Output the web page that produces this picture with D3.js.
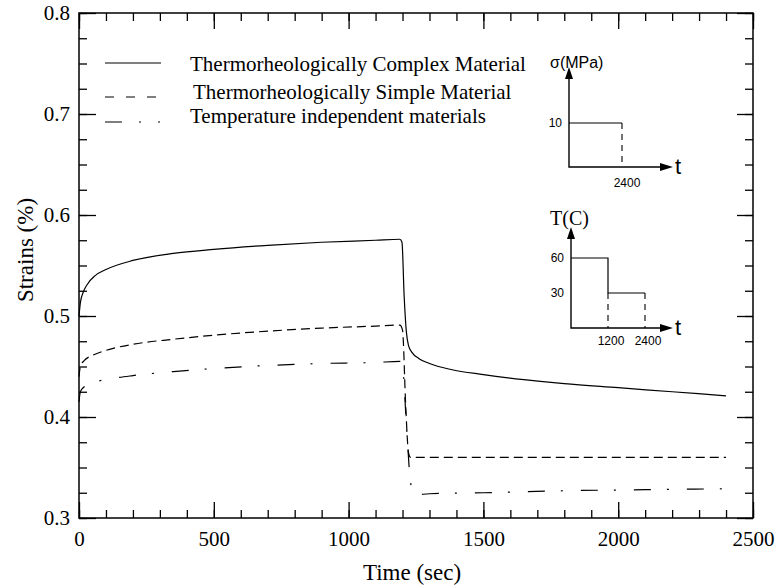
<!DOCTYPE html>
<html>
<head>
<meta charset="utf-8">
<script src="https://cdn.jsdelivr.net/npm/d3@7"></script>
<style>
  body { margin: 0; background: #fff; }
  svg { display: block; }
  .axis text { font-family: "Liberation Serif", "Times New Roman", serif; font-size: 21px; }
</style>
</head>
<body>
<svg id="chart" width="777" height="586"></svg>
<script>
// strain curves: time (sec) and strain (%)
const complexTime = [0, 5, 15, 30, 60, 100, 200, 350, 500, 700, 900, 1100, 1190, 1198, 1206, 1214, 1222, 1235, 1260, 1300, 1380, 1500, 1650, 1800, 2000, 2200, 2400];
const complexStrain = [0.500, 0.513, 0.523, 0.531, 0.540, 0.546, 0.555, 0.562, 0.566, 0.570, 0.573, 0.575, 0.576, 0.573, 0.52, 0.485, 0.471, 0.464, 0.458, 0.453, 0.447, 0.442, 0.437, 0.433, 0.429, 0.425, 0.421];

const simpleTime = [0, 5, 20, 50, 100, 200, 350, 500, 700, 900, 1100, 1190, 1200, 1212, 1222, 1230, 1600, 2000, 2400];
const simpleStrain = [0.440, 0.450, 0.456, 0.461, 0.466, 0.472, 0.477, 0.481, 0.485, 0.488, 0.490, 0.491, 0.486, 0.41, 0.365, 0.360, 0.360, 0.360, 0.360];

const indepTime = [0, 5, 20, 50, 100, 200, 350, 500, 700, 900, 1100, 1190, 1200, 1215, 1230, 1245, 1300, 1500, 1800, 2100, 2400];
const indepStrain = [0.415, 0.425, 0.430, 0.434, 0.437, 0.441, 0.445, 0.448, 0.451, 0.453, 0.454, 0.455, 0.450, 0.39, 0.335, 0.323, 0.324, 0.325, 0.327, 0.328, 0.329];

const seriesNames = ['Thermorheologically Complex Material', 'Thermorheologically Simple Material', 'Temperature independent materials'];

const xTicks = [0, 500, 1000, 1500, 2000, 2500];
const xMinorTicks = d3.range(0, 2501, 100);
const yTicks = [0.3, 0.4, 0.5, 0.6, 0.7, 0.8];
const yMinorTicks = d3.range(0.3, 0.8001, 0.025);

// loading history sketched in the inset
const stressTime = [0, 2400];
const stressLevel = [10, 10];
const tempTime = [0, 1200, 1200, 2400];
const tempLevel = [60, 60, 30, 30];

const svg = d3.select('#chart');
const margin = { left: 79, right: 24, top: 13, bottom: 68 };
const width = 777 - margin.left - margin.right;
const height = 586 - margin.top - margin.bottom;

const x = d3.scaleLinear().domain([0, 2500]).range([0, width]);
const y = d3.scaleLinear().domain([0.3, 0.8]).range([height, 0]);

const g = svg.append('g').attr('transform', `translate(${margin.left},${margin.top})`);

const SERIF = '"Liberation Serif", "Times New Roman", serif';
const SANS = '"Liberation Sans", Arial, sans-serif';

function styleAxis(sel, showLabels) {
  sel.attr('class', 'axis').attr('font-family', null).attr('font-size', null);
  sel.select('.domain').remove();
  sel.selectAll('.tick line').attr('stroke', '#000').attr('stroke-width', 1.3);
  sel.selectAll('.tick text').attr('fill', '#000');
  if (!showLabels) sel.selectAll('.tick text').remove();
}

// bottom
g.append('g').attr('transform', `translate(0,${height})`)
  .call(d3.axisBottom(x).tickValues(xMinorTicks).tickSize(-8).tickFormat(''))
  .call((s) => styleAxis(s, false));
g.append('g').attr('transform', `translate(0,${height})`)
  .call(d3.axisBottom(x).tickValues(xTicks).tickSize(-16).tickPadding(13).tickFormat(d3.format('d')))
  .call((s) => styleAxis(s, true));
// top
g.append('g')
  .call(d3.axisTop(x).tickValues(xMinorTicks).tickSize(-8).tickFormat(''))
  .call((s) => styleAxis(s, false));
g.append('g')
  .call(d3.axisTop(x).tickValues(xTicks).tickSize(-16).tickFormat(''))
  .call((s) => styleAxis(s, false));
// left
g.append('g')
  .call(d3.axisLeft(y).tickValues(yMinorTicks).tickSize(-8).tickFormat(''))
  .call((s) => styleAxis(s, false));
g.append('g')
  .call(d3.axisLeft(y).tickValues(yTicks).tickSize(-17).tickPadding(9).tickFormat(d3.format('.1f')))
  .call((s) => styleAxis(s, true));
// right
g.append('g').attr('transform', `translate(${width},0)`)
  .call(d3.axisRight(y).tickValues(yMinorTicks).tickSize(-8).tickFormat(''))
  .call((s) => styleAxis(s, false));
g.append('g').attr('transform', `translate(${width},0)`)
  .call(d3.axisRight(y).tickValues(yTicks).tickSize(-16).tickFormat(''))
  .call((s) => styleAxis(s, false));

g.append('rect')
  .attr('width', width)
  .attr('height', height)
  .attr('fill', 'none')
  .attr('stroke', '#000')
  .attr('stroke-width', 1.5);

// curves
const line = d3.line()
  .x((d) => x(d[0]))
  .y((d) => y(d[1]))
  .curve(d3.curveMonotoneX);

const series = [
  { time: complexTime, strain: complexStrain, dash: null, legendDash: null },
  { time: simpleTime, strain: simpleStrain, dash: '9,5', legendDash: '9,12' },
  { time: indepTime, strain: indepStrain, dash: '17,16,2,18', legendDash: '17,17,2,17,2,30' }
];

g.selectAll('.curve')
  .data(series)
  .enter()
  .append('path')
  .attr('class', 'curve')
  .attr('d', (s) => line(s.time.map((t, i) => [t, s.strain[i]])))
  .attr('fill', 'none')
  .attr('stroke', '#000')
  .attr('stroke-width', 1.2)
  .attr('stroke-dasharray', (s) => s.dash);

// legend
const legendRows = [
  { y: 50, textX: 111, textY: 58 },
  { y: 84, textX: 114, textY: 86 },
  { y: 109, textX: 111, textY: 110 }
];
const legend = g.append('g');
legend.selectAll('line')
  .data(series)
  .enter()
  .append('line')
  .attr('x1', 26)
  .attr('x2', 82)
  .attr('y1', (d, i) => legendRows[i].y)
  .attr('y2', (d, i) => legendRows[i].y)
  .attr('stroke', '#000')
  .attr('stroke-width', 1.2)
  .attr('stroke-dasharray', (d) => d.legendDash);
legend.selectAll('text')
  .data(seriesNames)
  .enter()
  .append('text')
  .attr('x', (d, i) => legendRows[i].textX)
  .attr('y', (d, i) => legendRows[i].textY)
  .style('font-family', SERIF)
  .style('font-size', '21px')
  .text((d) => d);

// axis titles
svg.append('text')
  .attr('x', 412)
  .attr('y', 580)
  .attr('text-anchor', 'middle')
  .style('font-family', SERIF)
  .style('font-size', '23px')
  .text('Time (sec)');

svg.append('text')
  .attr('transform', 'translate(33,250) rotate(-90)')
  .attr('text-anchor', 'middle')
  .style('font-family', SERIF)
  .style('font-size', '23px')
  .text('Strains (%)');

// inset sketches of the load history
function arrowAxes(parent, ox, oy, topY, rightX) {
  parent.append('path')
    .attr('d', `M${ox},${topY + 10}V${oy}H${rightX - 12}`)
    .attr('fill', 'none')
    .attr('stroke', '#000')
    .attr('stroke-width', 1.4);
  parent.append('path')
    .attr('d', `M${ox},${topY}l-4,12h8z`)
    .attr('fill', '#000');
  parent.append('path')
    .attr('d', `M${rightX},${oy}l-13,-4v8z`)
    .attr('fill', '#000');
  parent.append('text')
    .attr('x', rightX + 2)
    .attr('y', oy + 7)
    .style('font-family', SANS)
    .style('font-size', '22px')
    .text('t');
}

const inset = svg.append('g');
const smallText = (sel) => sel.style('font-family', SANS).style('font-size', '12px').attr('fill', '#000');

// stress
const sx = d3.scaleLinear().domain([0, 2400]).range([569, 622]);
const sy = d3.scaleLinear().domain([0, 10]).range([167, 123]);
arrowAxes(inset, sx(0), sy(0), 67, 673);
inset.append('path')
  .attr('d', d3.line().x((d) => sx(d)).y((d, i) => sy(stressLevel[i]))(stressTime))
  .attr('fill', 'none').attr('stroke', '#000').attr('stroke-width', 1.2);
inset.append('line')
  .attr('x1', sx(2400)).attr('x2', sx(2400))
  .attr('y1', sy(10)).attr('y2', sy(0))
  .attr('stroke', '#000').attr('stroke-width', 1.1).attr('stroke-dasharray', '6,5');
inset.append('text').attr('x', 562).attr('y', sy(10) + 4).attr('text-anchor', 'end').call(smallText).text('10');
inset.append('text').attr('x', sx(2400) + 5).attr('y', 187).attr('text-anchor', 'middle').call(smallText).text('2400');
inset.append('text').attr('x', 550).attr('y', 68)
  .style('font-family', SANS).style('font-size', '16px').text('σ(MPa)');

// temperature
const tx = d3.scaleLinear().domain([0, 1200]).range([571, 608]);
const ty = d3.scaleLinear().domain([0, 60]).range([328, 258]);
arrowAxes(inset, tx(0), ty(0), 227, 673);
inset.append('path')
  .attr('d', d3.line().x((d) => tx(d)).y((d, i) => ty(tempLevel[i]))(tempTime))
  .attr('fill', 'none').attr('stroke', '#000').attr('stroke-width', 1.2);
[1200, 2400].forEach((t) => {
  inset.append('line')
    .attr('x1', tx(t)).attr('x2', tx(t))
    .attr('y1', ty(30)).attr('y2', ty(0))
    .attr('stroke', '#000').attr('stroke-width', 1.1).attr('stroke-dasharray', '6,5');
  inset.append('text').attr('x', tx(t) + 3).attr('y', 345).attr('text-anchor', 'middle').call(smallText).text(t);
});
[60, 30].forEach((v) => {
  inset.append('text').attr('x', 564).attr('y', ty(v) + 4).attr('text-anchor', 'end').call(smallText).text(v);
});
inset.append('text').attr('x', 550).attr('y', 225)
  .style('font-family', SERIF).style('font-size', '20px').text('T(C)');
</script>
</body>
</html>
